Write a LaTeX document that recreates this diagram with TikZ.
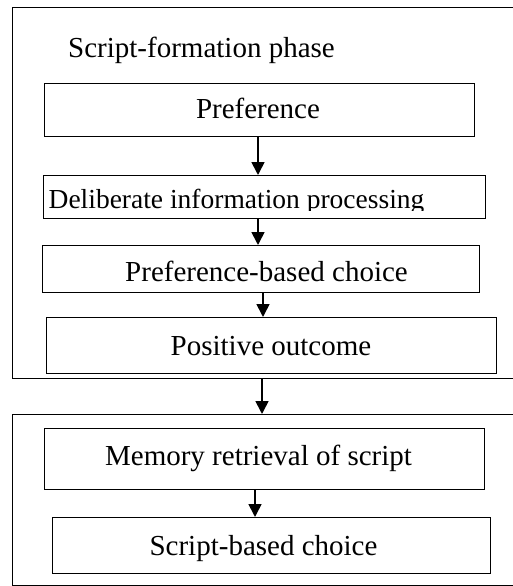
\documentclass[tikz,border=0pt]{standalone}
\usepackage{fontspec}
\setmainfont{Liberation Serif}
\usetikzlibrary{arrows.meta}
\begin{document}
\begin{tikzpicture}[x=1pt,y=-1pt,
  box/.style={draw, line width=1.3pt, rectangle, inner sep=0pt, anchor=north west},
  phasebox/.style={draw, line width=1.4pt, rectangle, inner sep=0pt, anchor=north west},
  lbl/.style={anchor=base, inner sep=0pt, font=\fontsize{29}{33}\selectfont},
  arr/.style={line width=1.7pt, -{Triangle[length=13pt,width=13pt]}}]
\useasboundingbox (0,0) rectangle (512,586);
% phase boxes
\node[phasebox, minimum width=510pt, minimum height=371pt] (phase1) at (12,7) {};
\node[phasebox, minimum width=510pt, minimum height=171pt] (phase2) at (12,414) {};
\node[lbl, anchor=base west] (title) at (68,57) {Script-formation phase};
% inner boxes
\node[box, minimum width=430pt, minimum height=53pt] (pref) at (44,83) {};
\node[lbl] (preft) at (258,118) {Preference};
\node[box, minimum width=442pt, minimum height=43pt] (delib) at (43,175) {};
\begin{scope}
\clip (43,175) rectangle (485,210.5);
\node[lbl, font=\fontsize{27.5}{31}\selectfont] (delibt) at (236.5,208) {Deliberate information processing};
\end{scope}
\node[box, minimum width=437pt, minimum height=47pt] (pbc) at (42,245) {};
\node[lbl] (pbct) at (266.5,281) {Preference-based choice};
\node[box, minimum width=450pt, minimum height=56pt] (pos) at (46,317) {};
\node[lbl] (post) at (271,355) {Positive outcome};
\node[box, minimum width=440pt, minimum height=61pt] (mem) at (44,428) {};
\node[lbl] (memt) at (258.5,465) {Memory retrieval of script};
\node[box, minimum width=438pt, minimum height=56pt] (sbc) at (52,517) {};
\node[lbl] (sbct) at (263.5,555) {Script-based choice};
% arrow x positions
\coordinate (a1) at (258,0);
\coordinate (a2) at (258,0);
\coordinate (a3) at (263,0);
\coordinate (a4) at (262,0);
\coordinate (a5) at (255,0);
\draw[arr] (a1 |- pref.south) -- (a1 |- delib.north);
\draw[arr] (a2 |- delib.south) -- (a2 |- pbc.north);
\draw[arr] (a3 |- pbc.south) -- (a3 |- pos.north);
\draw[arr] (a4 |- phase1.south) -- (a4 |- phase2.north);
\draw[arr] (a5 |- mem.south) -- (a5 |- sbc.north);
\end{tikzpicture}
\end{document}
